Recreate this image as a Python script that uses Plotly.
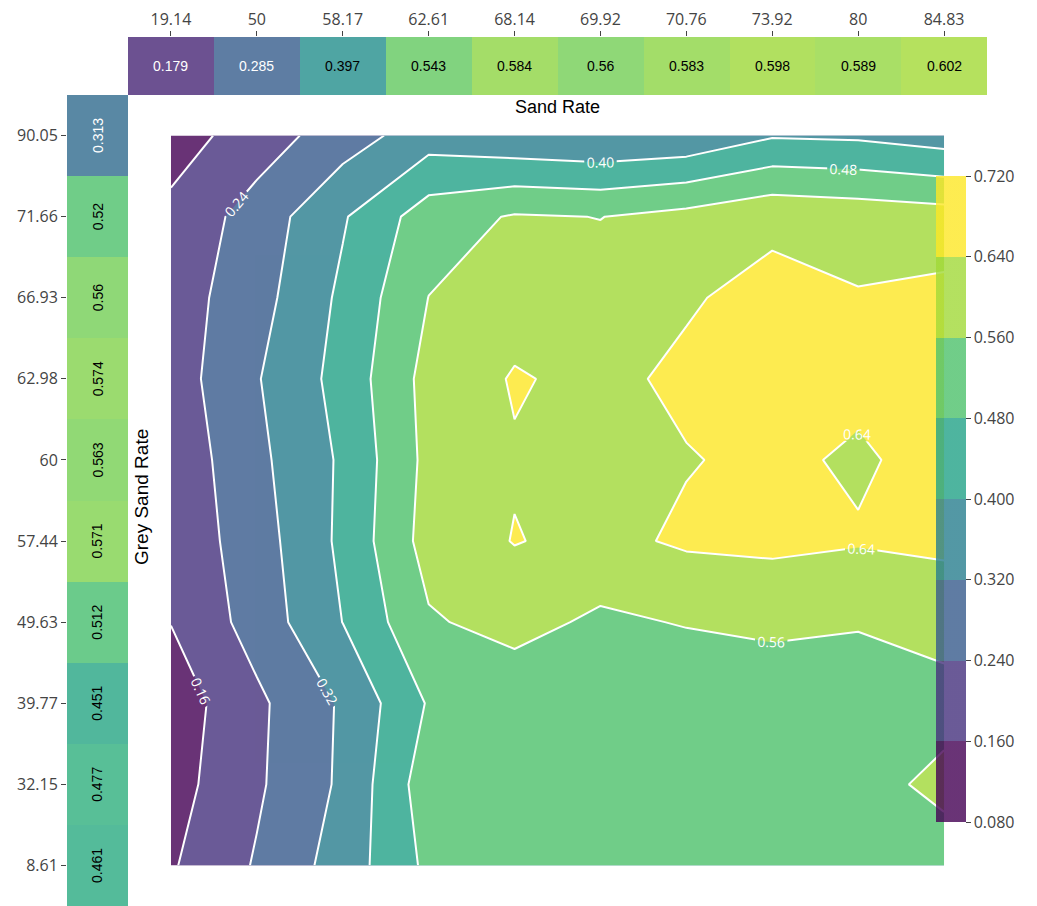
import plotly.graph_objects as go
from plotly.colors import sample_colorscale

# Category labels (grey sand rate listed bottom to top)
sand_rate = ["19.14", "50", "58.17", "62.61", "68.14", "69.92", "70.76", "73.92", "80", "84.83"]
grey_sand_rate = ["8.61", "32.15", "39.77", "49.63", "57.44", "60", "62.98", "66.93", "71.66", "90.05"]

# Marginal averages
sand_rate_mean = [0.179, 0.285, 0.397, 0.543, 0.584, 0.56, 0.583, 0.598, 0.589, 0.602]
grey_sand_rate_mean = [0.461, 0.477, 0.451, 0.512, 0.571, 0.563, 0.574, 0.56, 0.52, 0.313]

# Rate grid: one row per grey sand rate (bottom to top), one column per sand rate
rate_row_0861 = [0.1519, 0.2477, 0.3556, 0.4976, 0.510, 0.505, 0.515, 0.520, 0.525, 0.537]
rate_row_3215 = [0.128, 0.2284, 0.3337, 0.525, 0.520, 0.515, 0.510, 0.525, 0.543, 0.5718]
rate_row_3977 = [0.1146, 0.224, 0.3307, 0.487, 0.504, 0.510, 0.494, 0.533, 0.523, 0.5437]
rate_row_4963 = [0.162, 0.2735, 0.401, 0.551, 0.5877, 0.545, 0.565, 0.569, 0.565, 0.577]
rate_row_5744 = [0.1817, 0.284, 0.4173, 0.592, 0.643, 0.620, 0.651, 0.660, 0.6465, 0.660]
rate_row_6000 = [0.184, 0.301, 0.412, 0.582, 0.634, 0.615, 0.636, 0.655, 0.6296, 0.668]
rate_row_6298 = [0.200, 0.3147, 0.4285, 0.5875, 0.646, 0.622, 0.6547, 0.685, 0.658, 0.670]
rate_row_6693 = [0.200, 0.290, 0.416, 0.561, 0.609, 0.591, 0.632, 0.665, 0.645, 0.661]
rate_row_7166 = [0.181, 0.274, 0.392, 0.522, 0.567, 0.5587, 0.585, 0.622, 0.609, 0.595]
rate_row_9005 = [0.1225, 0.199, 0.281, 0.362, 0.335, 0.322, 0.335, 0.393, 0.387, 0.3615]

rate_grid = [rate_row_0861, rate_row_3215, rate_row_3977, rate_row_4963, rate_row_5744,
             rate_row_6000, rate_row_6298, rate_row_6693, rate_row_7166, rate_row_9005]

# Contour levels and colorbar ticks
level_start, level_end, level_size = 0.16, 0.64, 0.08
colorbar_ticks = [0.08, 0.16, 0.24, 0.32, 0.40, 0.48, 0.56, 0.64, 0.72]

W, H = 1037, 906
nx, ny = len(sand_rate), len(grey_sand_rate)
xi = list(range(nx))
yi = list(range(ny))

# Domains of the marginal strips (heatmap cells span index +/- 0.5)
x_dom = [128 / W, 987 / W]
top_dom = [1 - 95 / H, 1 - 37 / H]
side_dom = [0, 1 - 95 / H]
left_dom = [67 / W, 128 / W]

# Contour panel spans cell centres of the first to last category
def centre_domain(dom, n):
    half = (dom[1] - dom[0]) / n / 2
    return [dom[0] + half, dom[1] - half]

main_x_dom = centre_domain(x_dom, nx)
main_y_dom = centre_domain(side_dom, ny)

OP = 0.8
ZMIN, ZMAX = 0.12, 0.68
tick_font = dict(family="Open Sans", size=16, color="#444")
cell_font = "Liberation Sans"

# Stepped, semi-transparent viridis for the banded colour key
n_bands = len(colorbar_ticks) - 1
band_rgb = sample_colorscale("Viridis", [k / (n_bands - 1) for k in range(n_bands)])
stepped_scale = []
for k, c in enumerate(band_rgb):
    r, g, b = [int(round(float(v))) for v in c[c.index("(") + 1:-1].split(",")]
    rgba = f"rgba({r},{g},{b},{OP})"
    stepped_scale.append([k / n_bands, rgba])
    stepped_scale.append([(k + 1) / n_bands, rgba])

fig = go.Figure()

fig.add_trace(go.Heatmap(
    z=[sand_rate_mean], x=xi, y=[0], xaxis="x", yaxis="y",
    colorscale="Viridis", zmin=ZMIN, zmax=ZMAX, showscale=False,
    opacity=OP, hoverinfo="skip",
))

fig.add_trace(go.Heatmap(
    z=[[v] for v in grey_sand_rate_mean], x=[0], y=yi, xaxis="x3", yaxis="y3",
    colorscale="Viridis", zmin=ZMIN, zmax=ZMAX, showscale=False,
    opacity=OP, hoverinfo="skip",
))

fig.add_trace(go.Contour(
    z=rate_grid, x=xi, y=yi, xaxis="x2", yaxis="y2",
    colorscale="Viridis", opacity=OP, showscale=False,
    autocontour=False,
    contours=dict(start=level_start, end=level_end, size=level_size,
                  coloring="fill", showlabels=True, labelformat=".2f",
                  labelfont=dict(family="Open Sans", size=14, color="white")),
    line=dict(color="white", width=2, smoothing=0),
))

# Colour key for the contour bands
fig.add_trace(go.Scatter(
    x=[None], y=[None], xaxis="x2", yaxis="y2", mode="markers", hoverinfo="skip",
    marker=dict(
        color=[0.4], cmin=colorbar_ticks[0], cmax=colorbar_ticks[-1],
        colorscale=stepped_scale, showscale=True,
        colorbar=dict(
            x=0.893, xanchor="left", y=1 - 499 / H, yanchor="middle",
            len=0.735, thickness=30, outlinewidth=0,
            tickvals=colorbar_ticks, tickformat=".3f",
            ticks="outside", ticklen=5, tickcolor="#444",
            tickfont=tick_font,
        ),
    ),
))

annotations = []
for i, v in enumerate(sand_rate_mean):
    annotations.append(dict(
        x=i, y=0, xref="x", yref="y", text=f"{v:g}", showarrow=False,
        font=dict(family=cell_font, size=14, color="white" if v < 0.35 else "black"),
    ))
for j, v in enumerate(grey_sand_rate_mean):
    annotations.append(dict(
        x=0, y=j, xref="x3", yref="y3", text=f"{v:g}", showarrow=False, textangle=-90,
        font=dict(family=cell_font, size=14, color="white" if v < 0.35 else "black"),
    ))
annotations.append(dict(
    x=557.5 / W, y=1 - 107 / H, xref="paper", yref="paper", text="Sand Rate",
    xanchor="center", yanchor="middle",
    showarrow=False, font=dict(family=cell_font, size=18, color="black"),
))
annotations.append(dict(
    x=141 / W, y=1 - 497 / H, xref="paper", yref="paper", text="Grey Sand Rate",
    xanchor="center", yanchor="middle",
    showarrow=False, textangle=-90, font=dict(family=cell_font, size=19, color="black"),
))

hidden = dict(visible=False, showgrid=False, zeroline=False)

fig.update_layout(
    width=W, height=H,
    margin=dict(l=0, r=0, t=0, b=0),
    paper_bgcolor="white", plot_bgcolor="white",
    font=dict(family="Open Sans", color="#444"),
    showlegend=False,
    xaxis=dict(domain=x_dom, anchor="y", range=[-0.5, nx - 0.5], side="top",
               tickmode="array", tickvals=xi, ticktext=sand_rate,
               ticks="outside", ticklen=5, tickcolor="#444", tickfont=tick_font,
               showgrid=False, zeroline=False, showline=False, fixedrange=True),
    yaxis=dict(domain=top_dom, anchor="x", range=[-0.5, 0.5], **hidden),
    xaxis2=dict(domain=main_x_dom, anchor="y2", range=[0, nx - 1], **hidden),
    yaxis2=dict(domain=main_y_dom, anchor="x2", range=[0, ny - 1], **hidden),
    xaxis3=dict(domain=left_dom, anchor="y3", range=[-0.5, 0.5], **hidden),
    yaxis3=dict(domain=side_dom, anchor="x3", range=[-0.5, ny - 0.5],
                tickmode="array", tickvals=yi, ticktext=grey_sand_rate,
                ticks="outside", ticklen=5, tickcolor="#444", tickfont=tick_font,
                showgrid=False, zeroline=False, showline=False),
    annotations=annotations,
)

fig.write_html("out.html")
